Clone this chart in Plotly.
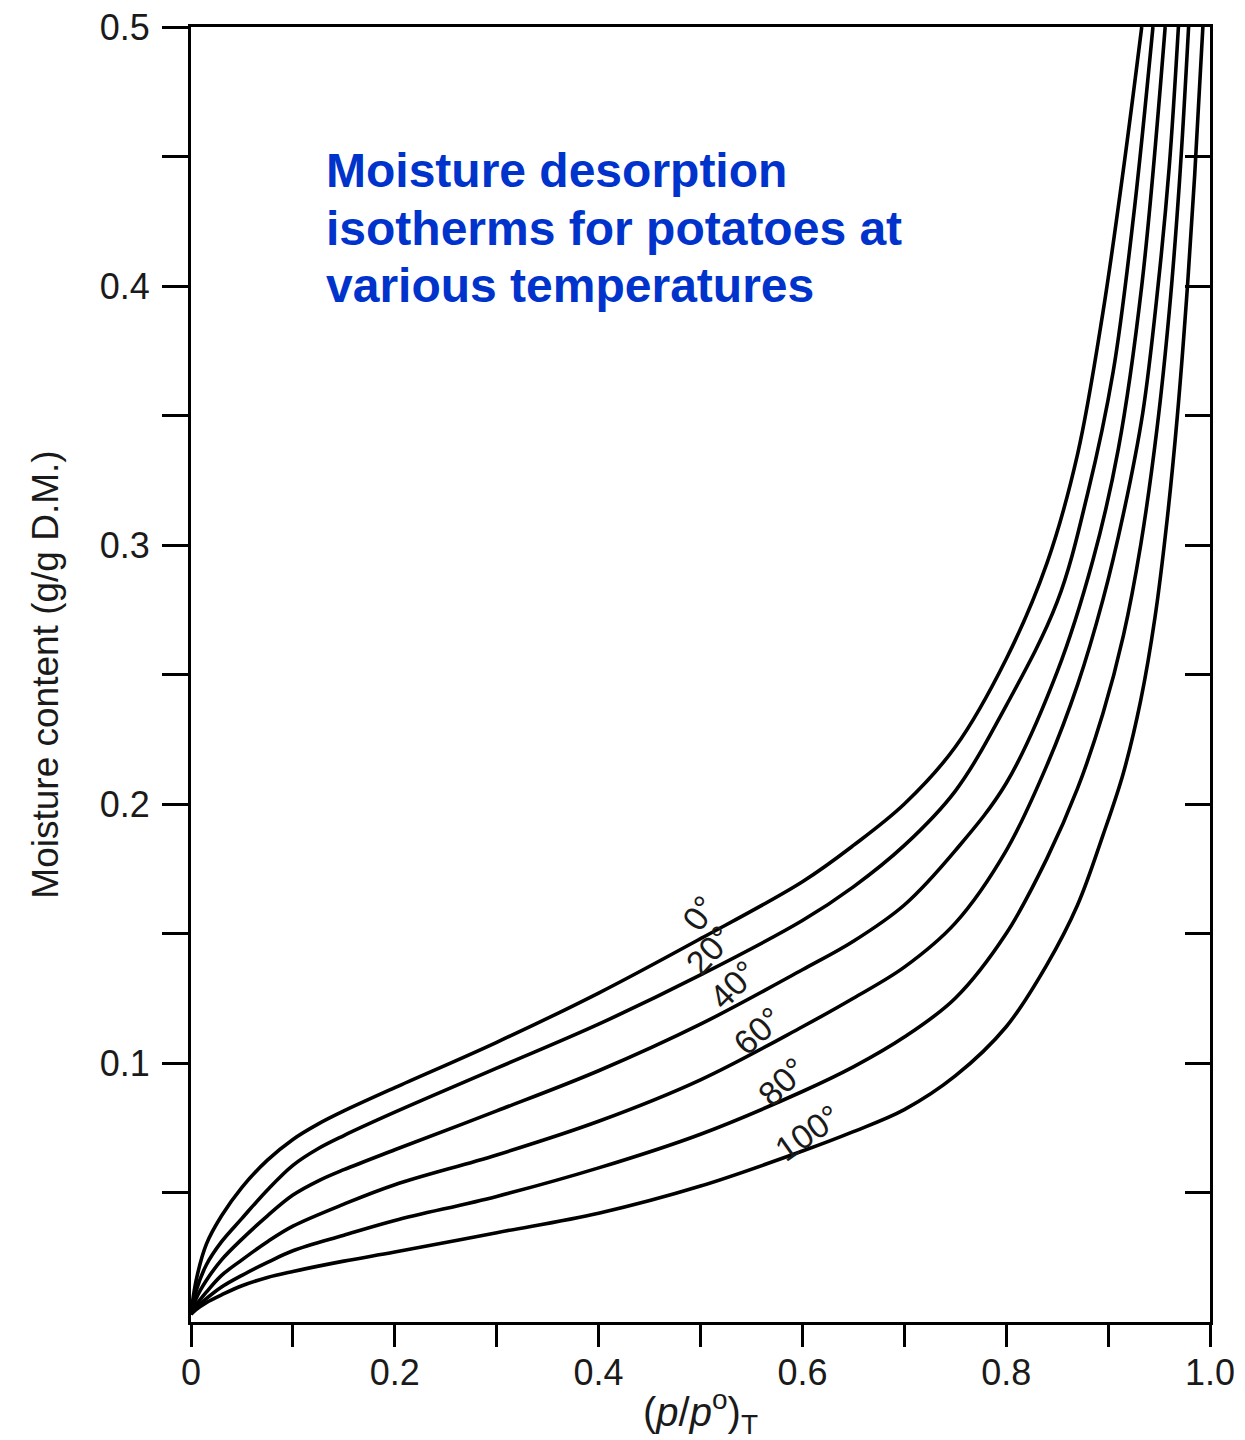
import plotly.graph_objects as go

# ---- data ----
temps = ["0°", "20°", "40°", "60°", "80°", "100°"]

x_0 = [0, 0.005, 0.015, 0.03, 0.05, 0.075, 0.1, 0.125, 0.15, 0.2, 0.3, 0.4, 0.5, 0.6, 0.65, 0.7, 0.75,
       0.8, 0.84, 0.87, 0.895, 0.915, 0.933]
y_0 = [0.003, 0.016, 0.030, 0.041, 0.052, 0.0625, 0.0705, 0.0765, 0.0815, 0.0905, 0.108, 0.127, 0.148,
       0.170, 0.184, 0.200, 0.222, 0.256, 0.293, 0.335, 0.390, 0.445, 0.500]

x_20 = [0, 0.005, 0.015, 0.03, 0.05, 0.075, 0.1, 0.125, 0.15, 0.2, 0.3, 0.4, 0.5, 0.6, 0.65, 0.7, 0.75,
        0.8, 0.85, 0.88, 0.905, 0.925, 0.944]
y_20 = [0.003, 0.012, 0.022, 0.031, 0.040, 0.051, 0.0605, 0.067, 0.072, 0.081, 0.098, 0.115, 0.134,
        0.155, 0.168, 0.184, 0.205, 0.238, 0.278, 0.320, 0.367, 0.427, 0.500]

x_40 = [0, 0.005, 0.015, 0.03, 0.05, 0.075, 0.1, 0.125, 0.15, 0.2, 0.3, 0.4, 0.5, 0.6, 0.65, 0.7, 0.75,
        0.8, 0.85, 0.885, 0.91, 0.933, 0.956]
y_40 = [0.003, 0.009, 0.016, 0.024, 0.032, 0.041, 0.049, 0.0545, 0.0588, 0.0665, 0.0815, 0.097, 0.115,
        0.136, 0.147, 0.161, 0.182, 0.208, 0.251, 0.294, 0.337, 0.400, 0.500]

x_60 = [0, 0.005, 0.015, 0.03, 0.05, 0.075, 0.1, 0.15, 0.2, 0.3, 0.4, 0.5, 0.6, 0.65, 0.7, 0.75, 0.8,
        0.84, 0.87, 0.895, 0.915, 0.934, 0.949, 0.96, 0.969]
y_60 = [0.003, 0.0065, 0.0115, 0.018, 0.024, 0.031, 0.037, 0.0455, 0.053, 0.0645, 0.0775, 0.0935, 0.114,
        0.125, 0.137, 0.154, 0.182, 0.215, 0.246, 0.279, 0.312, 0.351, 0.400, 0.446, 0.500]

x_80 = [0, 0.005, 0.015, 0.03, 0.05, 0.075, 0.1, 0.15, 0.2, 0.3, 0.4, 0.5, 0.6, 0.65, 0.7, 0.75, 0.8,
        0.84, 0.87, 0.895, 0.915, 0.932, 0.948, 0.96, 0.97, 0.979]
y_80 = [0.003, 0.0055, 0.009, 0.0135, 0.018, 0.023, 0.0275, 0.0335, 0.0392, 0.0485, 0.0595, 0.0725,
        0.089, 0.0985, 0.110, 0.125, 0.150, 0.179, 0.206, 0.235, 0.265, 0.300, 0.345, 0.390, 0.440, 0.500]

x_100 = [0, 0.005, 0.015, 0.03, 0.05, 0.075, 0.1, 0.15, 0.2, 0.3, 0.4, 0.5, 0.6, 0.65, 0.7, 0.75, 0.8,
         0.84, 0.87, 0.895, 0.915, 0.932, 0.946, 0.958, 0.968, 0.977, 0.985, 0.993]
y_100 = [0.003, 0.0048, 0.0075, 0.0105, 0.014, 0.0172, 0.0195, 0.0235, 0.027, 0.0345, 0.042, 0.0525,
         0.066, 0.0735, 0.082, 0.095, 0.114, 0.138, 0.161, 0.188, 0.212, 0.240, 0.272, 0.310, 0.350,
         0.395, 0.443, 0.500]

series_x = [x_0, x_20, x_40, x_60, x_80, x_100]
series_y = [y_0, y_20, y_40, y_60, y_80, y_100]

# curve-label anchor points (data coords) and text angles
label_x = [0.499, 0.509, 0.532, 0.556, 0.580, 0.605]
label_y = [0.158, 0.1435, 0.130, 0.1125, 0.0925, 0.0728]
label_angle = [-55, -48, -45, -42, -44, -35]

x_major = [0, 0.2, 0.4, 0.6, 0.8, 1.0]
x_major_text = ["0", "0.2", "0.4", "0.6", "0.8", "1.0"]
x_minor = [0.1, 0.3, 0.5, 0.7, 0.9]
y_major = [0.1, 0.2, 0.3, 0.4, 0.5]
y_major_text = ["0.1", "0.2", "0.3", "0.4", "0.5"]
y_minor = [0.05, 0.15, 0.25, 0.35, 0.45]
y_all = [0.05, 0.1, 0.15, 0.2, 0.25, 0.3, 0.35, 0.4, 0.45, 0.5]

title_lines = ["Moisture desorption", "isotherms for potatoes at", "various temperatures"]
title_line_y = [0.4446, 0.4222, 0.4002]

FONT = "Liberation Sans, Arial, Helvetica, sans-serif"
TXT = "#1a1a1a"

fig = go.Figure()
for name, xs, ys in zip(temps, series_x, series_y):
    fig.add_trace(go.Scatter(
        x=xs, y=ys, mode="lines", name=name,
        line=dict(color="black", width=3.6, shape="spline", smoothing=1.0),
        hoverinfo="skip",
    ))
# empty trace so the right-hand (inside-tick) axis exists
fig.add_trace(go.Scatter(x=[], y=[], yaxis="y2", showlegend=False))

for t, lx, ly, ang in zip(temps, label_x, label_y, label_angle):
    fig.add_annotation(x=lx, y=ly, text=t, showarrow=False, textangle=ang,
                       font=dict(family=FONT, size=34, color=TXT),
                       xanchor="center", yanchor="middle")

for line, ly in zip(title_lines, title_line_y):
    fig.add_annotation(x=0.131, y=ly, xref="x", yref="y", text="<b>" + line + "</b>",
                       showarrow=False, xanchor="left", yanchor="middle", align="left",
                       font=dict(family=FONT, size=48, color="#0033CC"))

axis_common = dict(showgrid=False, zeroline=False, showline=True, linewidth=3, linecolor="black",
                   tickwidth=3, tickcolor="black",
                   tickfont=dict(family=FONT, size=36, color=TXT))

fig.update_layout(
    width=1245, height=1440,
    margin=dict(l=191, r=35, t=27, b=118, autoexpand=False),
    paper_bgcolor="white", plot_bgcolor="white",
    showlegend=False,
    xaxis=dict(range=[0, 1], tickmode="array", tickvals=x_major, ticktext=x_major_text,
               ticks="outside", ticklen=22, mirror=True, ticklabelstandoff=-5,
               minor=dict(tickmode="array", tickvals=x_minor, ticks="outside", ticklen=22,
                          tickwidth=3, tickcolor="black", showgrid=False),
               title=dict(text="(<i>p</i>/<i>p</i><sup>o</sup>)<sub>T</sub>",
                          font=dict(family=FONT, size=40, color=TXT), standoff=12),
               **axis_common),
    yaxis=dict(range=[0, 0.5], tickmode="array", tickvals=y_major, ticktext=y_major_text,
               ticks="outside", ticklen=26, mirror=True, ticklabelstandoff=5,
               minor=dict(tickmode="array", tickvals=y_minor, ticks="outside", ticklen=26,
                          tickwidth=3, tickcolor="black", showgrid=False),
               title=dict(text="Moisture content (g/g D.M.)",
                          font=dict(family=FONT, size=37, color=TXT), standoff=30),
               **axis_common),
    yaxis2=dict(range=[0, 0.5], overlaying="y", side="right", anchor="x",
                tickmode="array", tickvals=y_all, ticks="inside", ticklen=25,
                tickwidth=3, tickcolor="black", showticklabels=False,
                showgrid=False, zeroline=False, showline=False),
)

fig.write_html("out.html")
